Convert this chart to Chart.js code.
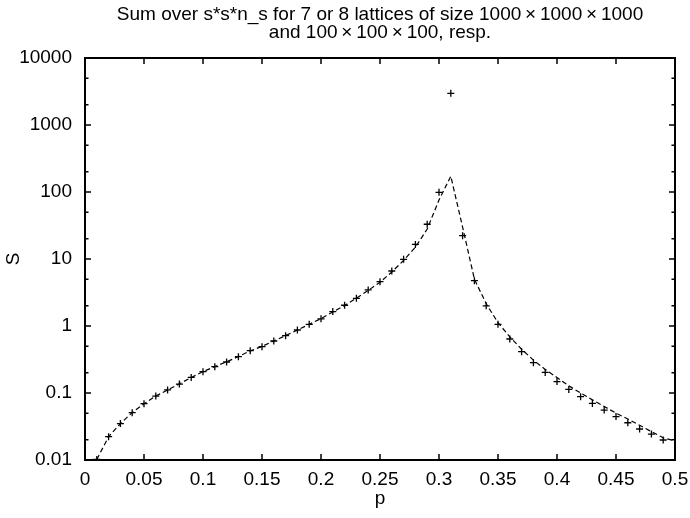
<!DOCTYPE html>
<html>
<head>
<meta charset="utf-8">
<script src="https://cdn.jsdelivr.net/npm/chart.js@4.4.1/dist/chart.umd.min.js"></script>
<style>
  html, body { margin: 0; padding: 0; background: #fff; }
  #wrap { width: 690px; height: 518px; position: relative; }
</style>
</head>
<body>
<div id="wrap"><canvas id="sumChart"></canvas></div>
<script>
// occupation probability p
const pLarge = [0.01, 0.02, 0.03, 0.04, 0.05, 0.06, 0.07, 0.08, 0.09, 0.10,
                0.11, 0.12, 0.13, 0.14, 0.15, 0.16, 0.17, 0.18, 0.19, 0.20,
                0.21, 0.22, 0.23, 0.24, 0.25, 0.26, 0.27, 0.28, 0.29, 0.30,
                0.31, 0.32, 0.33, 0.34, 0.35, 0.36, 0.37, 0.38, 0.39, 0.40,
                0.41, 0.42, 0.43, 0.44, 0.45, 0.46, 0.47, 0.48, 0.49];
// S for the 1000x1000x1000 lattices (plus markers)
const sLarge = [0.0102, 0.0223, 0.035, 0.0508, 0.0692, 0.090, 0.111, 0.136, 0.171, 0.208,
                0.247, 0.290, 0.348, 0.428, 0.492, 0.597, 0.718, 0.871, 1.06, 1.28,
                1.64, 2.04, 2.59, 3.45, 4.58, 6.62, 9.9, 16.5, 33, 99,
                2970, 22.3, 4.75, 2.0, 1.06, 0.64, 0.414, 0.284, 0.203, 0.148,
                0.113, 0.088, 0.070, 0.0557, 0.0445, 0.036, 0.029, 0.0244, 0.0199];

const pSmall = [0.01, 0.02, 0.03, 0.04, 0.05, 0.06, 0.07, 0.08, 0.09, 0.10,
                0.11, 0.12, 0.13, 0.14, 0.15, 0.16, 0.17, 0.18, 0.19, 0.20,
                0.21, 0.22, 0.23, 0.24, 0.25, 0.26, 0.27, 0.28, 0.29, 0.30,
                0.31, 0.32, 0.33, 0.34, 0.35, 0.36, 0.37, 0.38, 0.39, 0.40,
                0.41, 0.42, 0.43, 0.44, 0.45, 0.46, 0.47, 0.48, 0.49, 0.50];
// S for the 100x100x100 lattices (dashed curve)
const sSmall = [0.0102, 0.0222, 0.035, 0.051, 0.069, 0.090, 0.111, 0.137, 0.170, 0.208,
                0.248, 0.292, 0.350, 0.425, 0.495, 0.598, 0.72, 0.87, 1.06, 1.29,
                1.62, 2.03, 2.6, 3.4, 4.5, 6.4, 9.5, 15.0, 28, 76,
                172, 30, 5.0, 2.15, 1.12, 0.69, 0.45, 0.31, 0.225, 0.170,
                0.128, 0.100, 0.079, 0.063, 0.050, 0.041, 0.033, 0.0265, 0.0215, 0.0192];

const xTicks = [0, 0.05, 0.1, 0.15, 0.2, 0.25, 0.3, 0.35, 0.4, 0.45, 0.5];
const yTicks = [0.01, 0.1, 1, 10, 100, 1000, 10000];
const yMinor = [2, 5];

const titleLines = ['Sum over s*s*n_s for 7 or 8 lattices of size 1000\u2009\u00d7\u20091000\u2009\u00d7\u20091000',
                    'and 100\u2009\u00d7\u2009100\u2009\u00d7\u2009100, resp.'];

const FONT = 'Liberation Sans, Arial, Helvetica, sans-serif';

function pts(xs, ys) {
    return xs.map((x, i) => ({ x: x, y: ys[i] }));
}

// box around the plot with inward ticks on all four sides, plus the title
const frame = {
    id: 'frame',
    afterDraw(chart) {
        const ctx = chart.ctx;
        const a = chart.chartArea;
        const xs = chart.scales.x, ys = chart.scales.y;
        ctx.save();
        ctx.strokeStyle = '#000';
        ctx.lineWidth = 1.5;
        ctx.beginPath();
        xTicks.forEach(v => {
            const px = xs.getPixelForValue(v);
            ctx.moveTo(px, a.bottom); ctx.lineTo(px, a.bottom - 6);
            ctx.moveTo(px, a.top); ctx.lineTo(px, a.top + 6);
        });
        yTicks.forEach((v, i) => {
            const py = ys.getPixelForValue(v);
            ctx.moveTo(a.left, py); ctx.lineTo(a.left + 6, py);
            ctx.moveTo(a.right, py); ctx.lineTo(a.right - 6, py);
            if (i < yTicks.length - 1) {
                yMinor.forEach(m => {
                    const pm = ys.getPixelForValue(v * m);
                    ctx.moveTo(a.left, pm); ctx.lineTo(a.left + 3.5, pm);
                    ctx.moveTo(a.right, pm); ctx.lineTo(a.right - 3.5, pm);
                });
            }
        });
        ctx.stroke();
        ctx.lineWidth = 2;
        ctx.strokeRect(a.left, a.top, a.right - a.left, a.bottom - a.top);

        ctx.fillStyle = '#000';
        ctx.font = '19px ' + FONT;
        ctx.textAlign = 'center';
        ctx.textBaseline = 'middle';
        const cx = (a.left + a.right) / 2;
        ctx.fillText(titleLines[0], cx, a.top - 43);
        ctx.fillText(titleLines[1], cx, a.top - 25);
        ctx.restore();
    }
};

const ctx = document.getElementById('sumChart').getContext('2d');
const sumChart = new Chart(ctx, {
    type: 'scatter',
    data: {
        datasets: [
            {
                label: '100x100x100',
                data: pts(pSmall, sSmall),
                showLine: true,
                borderColor: '#000',
                borderWidth: 1.2,
                borderDash: [5, 3],
                pointRadius: 0,
                fill: false,
            },
            {
                label: '1000x1000x1000',
                data: pts(pLarge, sLarge),
                showLine: false,
                pointStyle: 'cross',
                pointRadius: 3.5,
                borderColor: '#000',
                borderWidth: 1.3,
            },
        ],
    },
    options: {
        responsive: true,
        maintainAspectRatio: false,
        devicePixelRatio: 1,
        animation: false,
        layout: { padding: { top: 58, right: 15, left: 0, bottom: 0 } },
        plugins: {
            legend: { display: false },
            tooltip: { enabled: false },
        },
        scales: {
            x: {
                type: 'linear',
                min: 0,
                max: 0.5,
                afterBuildTicks: s => { s.ticks = xTicks.map(v => ({ value: v })); },
                afterFit: s => { s.height = 58; s.paddingLeft = 0; s.paddingRight = 0; },
                grid: { display: false, drawTicks: false },
                border: { display: false },
                ticks: {
                    color: '#000',
                    font: { family: FONT, size: 19 },
                    padding: 8,
                    maxRotation: 0,
                    autoSkip: false,
                    callback: v => String(parseFloat(v.toFixed(2))),
                },
                title: {
                    display: true,
                    text: 'p',
                    color: '#000',
                    font: { family: FONT, size: 19 },
                    padding: { top: 0, bottom: 8 },
                },
            },
            y: {
                type: 'logarithmic',
                min: 0.01,
                max: 10000,
                afterBuildTicks: s => { s.ticks = yTicks.map(v => ({ value: v })); },
                afterFit: s => { s.width = 85; s.paddingTop = 0; s.paddingBottom = 0; },
                grid: { display: false, drawTicks: false },
                border: { display: false },
                ticks: {
                    color: '#000',
                    font: { family: FONT, size: 19 },
                    padding: 13,
                    autoSkip: false,
                    callback: v => String(v),
                },
                title: {
                    display: true,
                    text: 'S',
                    color: '#000',
                    font: { family: FONT, size: 19 },
                    padding: { top: 2, bottom: 0 },
                },
            },
        },
    },
    plugins: [frame],
});
</script>
</body>
</html>
